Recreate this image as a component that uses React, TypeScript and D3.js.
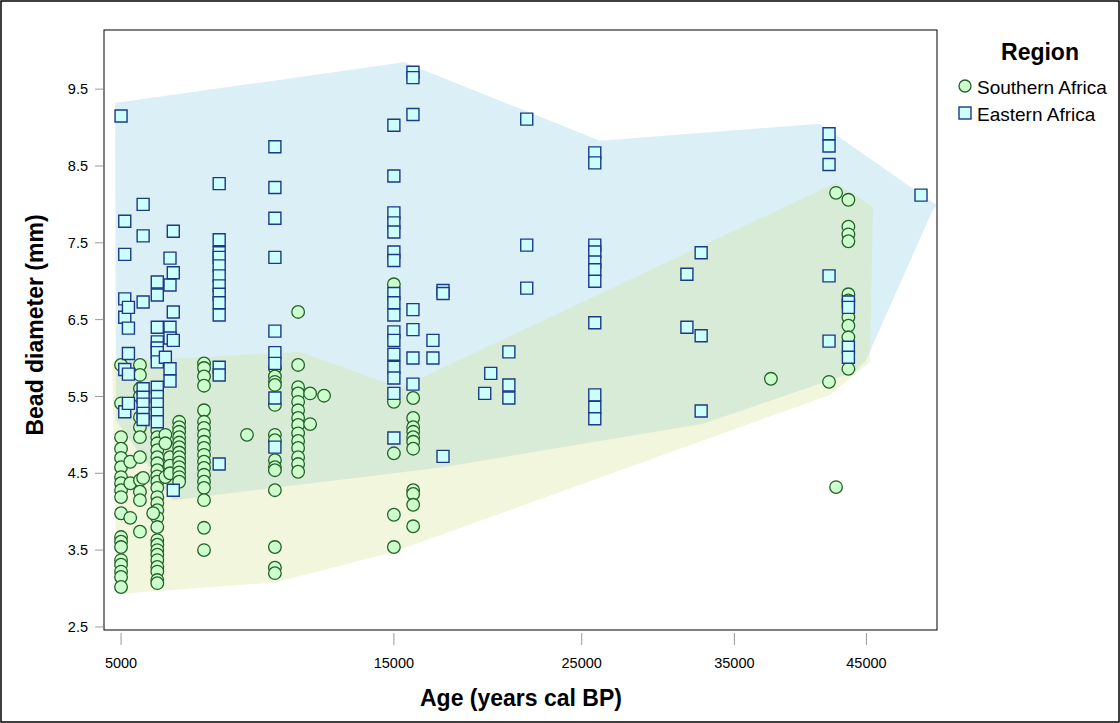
import React from "react";
import * as d3 from "d3";

// ---- data (age in years cal BP, bead diameter in mm) ----
const easternAges: number[] = [
  5000,
  5100, 5100, 5100, 5100, 5100, 5100,
  5200, 5200, 5200, 5200, 5200,
  5610, 5610, 5610, 5610, 5610, 5610, 5610, 5610,
  6020, 6020, 6020, 6020, 6020, 6020, 6020, 6020, 6020, 6020, 6020, 6020,
  6260,
  6400, 6400, 6400, 6400, 6400, 6400,
  6500, 6500, 6500, 6500, 6500,
  7980, 7980, 7980, 7980, 7980, 7980, 7980, 7980, 7980, 7980, 7980, 7980, 7980,
  9980, 9980, 9980, 9980, 9980, 9980, 9980, 9980, 9980,
  15000, 15000, 15000, 15000, 15000, 15000, 15000, 15000, 15000, 15000, 15000, 15000, 15000, 15000, 15000, 15000, 15000,
  15900, 15900, 15900, 15900, 15900, 15900, 15900,
  16870, 16870,
  17370, 17370, 17370,
  19520,
  19840,
  20820, 20820, 20820,
  21810, 21810, 21810,
  25790, 25790, 25790, 25790, 25790, 25790, 25790, 25790, 25790, 25790, 25790,
  31710, 31710,
  32680, 32680, 32680,
  42040, 42040, 42040, 42040, 42040,
  43560, 43560, 43560, 43560,
  49500,
];
const easternDiam: number[] = [
  9.15,
  7.78, 7.35, 6.77, 6.53, 5.85, 5.3,
  6.66, 6.39, 6.06, 5.79, 5.41,
  8.0, 7.59, 6.73, 5.6, 5.49, 5.4, 5.28, 5.2,
  6.99, 6.82, 6.4, 6.21, 6.13, 6.07, 5.95, 5.62, 5.5, 5.4, 5.28, 5.17,
  6.01,
  7.3, 6.95, 6.4, 6.26, 5.86, 5.7,
  7.65, 7.11, 6.6, 6.23, 4.28,
  8.27, 7.54, 7.37, 7.31, 7.2, 7.07, 6.94, 6.83, 6.72, 6.56, 5.88, 5.78, 4.62,
  8.75, 8.22, 7.82, 7.31, 6.35, 6.07, 5.93, 5.48, 4.84,
  9.03, 8.37, 7.89, 7.76, 7.64, 7.38, 7.27, 6.84, 6.72, 6.56, 6.34, 6.23, 6.05, 5.88, 5.74, 5.54, 4.96,
  9.72, 9.65, 9.17, 6.63, 6.37, 6.0, 5.66,
  6.23, 6.0,
  6.88, 6.84, 4.72,
  5.54,
  5.8,
  6.08, 5.65, 5.48,
  9.11, 7.47, 6.91,
  8.67, 8.54, 7.47, 7.38, 7.25, 7.15, 7.0, 6.46, 5.52, 5.36, 5.21,
  7.09, 6.4,
  7.37, 6.29, 5.31,
  8.92, 8.76, 8.52, 7.07, 6.22,
  6.73, 6.66, 6.14, 6.01,
  8.12,
];

const southernAges: number[] = [
  5000, 5000, 5000, 5000, 5000, 5000, 5000, 5000, 5000, 5000, 5000, 5000, 5000, 5000, 5000, 5000, 5000, 5000, 5000,
  5250, 5250, 5250,
  5520, 5520, 5520, 5520, 5520, 5520, 5520, 5520, 5520, 5520, 5520, 5520,
  5610,
  6020, 6020, 6020, 6020, 6020, 6020, 6020, 6020, 6020, 6020, 6020, 6020, 6020, 6020, 6020, 6020, 6020, 6020, 6020, 6020, 6020, 6020, 6020, 6020,
  5900,
  6260, 6260, 6260,
  6400, 6400, 6400,
  6680, 6680, 6680, 6680, 6680, 6680, 6680, 6680, 6680, 6680, 6680, 6680, 6680,
  7474, 7474, 7474, 7474, 7474, 7474, 7474, 7474, 7474, 7474, 7474, 7474, 7474, 7474, 7474, 7474, 7474, 7474, 7474,
  8950,
  9980, 9980, 9980, 9980, 9980, 9980, 9980, 9980, 9980, 9980, 9980, 9980, 9980, 9980,
  10880, 10880, 10880, 10880, 10880, 10880, 10880, 10880, 10880, 10880, 10880, 10880, 10880, 10880,
  11360, 11360,
  11930,
  15000, 15000, 15000, 15000, 15000,
  15910, 15910, 15910, 15910, 15910, 15910, 15910, 15910, 15910, 15910, 15910,
  37640,
  42040,
  42590, 42590,
  43560, 43560, 43560, 43560, 43560, 43560, 43560, 43560, 43560, 43560,
];
const southernDiam: number[] = [
  5.91, 5.41, 4.97, 4.82, 4.7, 4.58, 4.45, 4.37, 4.28, 4.19, 3.98, 3.67, 3.61, 3.54, 3.37, 3.31, 3.22, 3.15, 3.02,
  4.65, 4.37, 3.92,
  5.91, 5.78, 5.6, 5.5, 5.23, 5.1, 4.97, 4.71, 4.41, 4.26, 4.15, 3.74,
  4.44,
  5.06, 4.97, 4.89, 4.8, 4.71, 4.63, 4.54, 4.46, 4.39, 4.31, 4.19, 4.11, 4.02, 3.92, 3.8, 3.63, 3.57, 3.5, 3.44, 3.37, 3.28, 3.22, 3.11, 3.07,
  3.98,
  5.0, 4.89, 4.45,
  4.71, 4.6, 4.5,
  5.17, 5.1, 5.04, 4.97, 4.9, 4.84, 4.77, 4.71, 4.64, 4.58, 4.51, 4.45, 4.39,
  5.93, 5.87, 5.76, 5.64, 5.32, 5.17, 5.09, 5.0, 4.91, 4.83, 4.74, 4.65, 4.57, 4.48, 4.39, 4.31, 4.15, 3.79, 3.5,
  5.0,
  5.87, 5.76, 5.69, 5.65, 5.39, 5.0, 4.93, 4.67, 4.58, 4.54, 4.28, 3.54, 3.27, 3.2,
  6.6, 5.91, 5.62, 5.54, 5.43, 5.32, 5.22, 5.13, 5.02, 4.92, 4.83, 4.71, 4.62, 4.52,
  5.54, 5.14,
  5.51,
  6.96, 5.43, 4.76, 3.96, 3.54,
  5.48, 5.22, 5.1, 5.04, 4.97, 4.91, 4.82, 4.28, 4.23, 4.09, 3.81,
  5.73,
  5.69,
  8.15, 4.32,
  8.06, 7.71, 7.61, 7.52, 6.83, 6.75, 6.53, 6.42, 6.27, 5.86,
];

// region outlines (age, diameter)
const easternHullAges: number[] = [4840, 15473, 26105, 41335, 50850, 50423, 44957, 44079, 32732, 17369, 6491, 4866];
const easternHullDiam: number[] = [9.32, 9.85, 8.83, 9.05, 7.99, 7.9, 5.97, 5.82, 5.14, 4.58, 4.15, 5.19];
const southernHullAges: number[] = [4761, 10954, 15285, 42576, 45523, 45280, 42107, 14911, 9984, 4893];
const southernHullDiam: number[] = [5.95, 6.08, 5.61, 8.28, 7.97, 5.95, 5.52, 3.47, 3.08, 2.93];

const xTicks: number[] = [5000, 15000, 25000, 35000, 45000];
const yTicks: number[] = [2.5, 3.5, 4.5, 5.5, 6.5, 7.5, 8.5, 9.5];
const legendLabels: string[] = ["Southern Africa", "Eastern Africa"];

const W = 1120;
const H = 723;
const L = 104, R = 937, T = 30, B = 630;
const FONT = "'Liberation Sans', Arial, Helvetica, sans-serif";

export default function App() {
  const x = d3.scaleSqrt().domain([4553, 50860]).range([L, R]);
  const y = d3.scaleLinear().domain([2.46, 10.27]).range([B, T]);

  const line = d3.line<[number, number]>().x((d) => x(d[0])).y((d) => y(d[1])).curve(d3.curveLinearClosed);
  const eHull: [number, number][] = easternHullAges.map((a, i) => [a, easternHullDiam[i]]);
  const sHull: [number, number][] = southernHullAges.map((a, i) => [a, southernHullDiam[i]]);

  const sym = d3.symbol().type(d3.symbolSquare).size(144);

  return (
    <svg width={W} height={H} style={{ position: "absolute", left: 0, top: 0, background: "#fff" }} fontFamily={FONT}>
      <rect x={1} y={1} width={W - 2} height={H - 2} fill="none" stroke="#000" strokeWidth={1.5} />
      <defs>
        <clipPath id="plotClip">
          <rect x={L} y={T} width={R - L} height={B - T} />
        </clipPath>
      </defs>
      <g clipPath="url(#plotClip)">
        <path d={line(eHull) || ""} fill="rgb(170,216,234)" fillOpacity={0.42} stroke="none" />
        <path d={line(sHull) || ""} fill="rgb(208,224,144)" fillOpacity={0.3} stroke="none" />
      </g>
      {/* Southern Africa circles */}
      <g>
        {southernAges.map((a, i) => (
          <circle key={"s" + i} cx={x(a)} cy={y(southernDiam[i])} r={6.3} fill="#ccffcc" stroke="#23602a" strokeWidth={1.3} />
        ))}
      </g>
      {/* Eastern Africa squares */}
      <g>
        {easternAges.map((a, i) => (
          <path key={"e" + i} d={sym() || ""} transform={`translate(${x(a)},${y(easternDiam[i])})`} fill="#ccffff" stroke="#1c3a87" strokeWidth={1.4} />
        ))}
      </g>
      {/* frame */}
      <rect x={L} y={T} width={R - L} height={B - T} fill="none" stroke="#000" strokeWidth={1} />
      {/* y axis */}
      <g>
        {yTicks.map((t) => (
          <g key={"y" + t}>
            <line x1={L - 9} x2={L - 1} y1={y(t)} y2={y(t)} stroke="#999" strokeWidth={1} />
            <text x={L - 16} y={y(t)} dy="0.35em" textAnchor="end" fontSize={14.5} fill="#000">
              {t.toFixed(1)}
            </text>
          </g>
        ))}
      </g>
      {/* x axis */}
      <g>
        {xTicks.map((t) => (
          <g key={"x" + t}>
            <line x1={x(t)} x2={x(t)} y1={B + 3} y2={B + 15} stroke="#999" strokeWidth={1} />
            <text x={x(t)} y={B + 33} dy="0.35em" textAnchor="middle" fontSize={14.5} fill="#000">
              {t}
            </text>
          </g>
        ))}
      </g>
      <text x={521} y={706} textAnchor="middle" fontSize={23} fontWeight="bold">
        Age (years cal BP)
      </text>
      <text transform={`translate(43,325) rotate(-90)`} textAnchor="middle" fontSize={23} fontWeight="bold">
        Bead diameter (mm)
      </text>
      {/* legend */}
      <text x={1040} y={60} textAnchor="middle" fontSize={23} fontWeight="bold">Region</text>
      <circle cx={965} cy={86} r={6} fill="#ccffcc" stroke="#23602a" strokeWidth={1.3} />
      <text x={977} y={87} dy="0.35em" fontSize={19}>{legendLabels[0]}</text>
      <rect x={959} y={107} width={12} height={12} fill="#ccffff" stroke="#1c3a87" strokeWidth={1.4} />
      <text x={977} y={114} dy="0.35em" fontSize={19}>{legendLabels[1]}</text>
    </svg>
  );
}
